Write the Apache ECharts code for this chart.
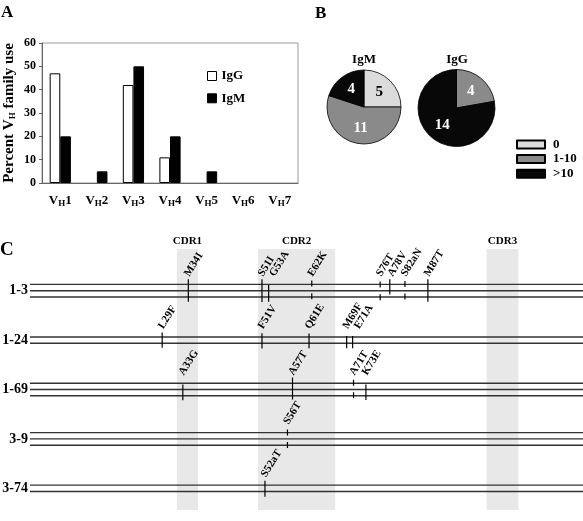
<!DOCTYPE html>
<html>
<head>
<meta charset="utf-8">
<script src="https://cdn.jsdelivr.net/npm/echarts@6/dist/echarts.min.js"></script>
<style>
  html, body { margin: 0; padding: 0; background: #fff; }
  #main { width: 583px; height: 521px; }
</style>
</head>
<body>
<div id="main"></div>
<script>
// ---- panel A: VH family use (%)
const vhFamilies = ['VH1', 'VH2', 'VH3', 'VH4', 'VH5', 'VH6', 'VH7'];
const igG = [47, 0, 42, 11, 0, 0, 0];
const igM = [20, 5, 50, 20, 5, 0, 0];

// ---- panel B: mutations per clone
const mutClasses = ['0', '1-10', '>10'];
const pieTitles = ['IgM', 'IgG'];
const pieIgM = [5, 11, 4];
const pieIgG = [0, 4, 14];

// ---- panel C: germline genes and replacement mutations
const germlines = ['1-3', '1-24', '1-69', '3-9', '3-74'];
const strandCount = [3, 2, 3, 3, 2];
const cdrNames = ['CDR1', 'CDR2', 'CDR3'];
const cdrFrom = [32.0, 49.7, 99.5];
const cdrTo = [36.6, 66.5, 106.4];

const mutNames = ['M34I', 'S51I', 'G53A', 'E62K', 'S76T', 'A78V', 'S82aN', 'M87T',
                  'L29F', 'F51V', 'Q61E', 'M69F', 'E71A',
                  'A33G', 'A57T', 'A71T', 'K73E',
                  'S56T',
                  'S52aT'];
const mutRow = [0, 0, 0, 0, 0, 0, 0, 0,
                1, 1, 1, 1, 1,
                2, 2, 2, 2,
                3,
                4];
const mutPos = [34.5, 50.55, 52.0, 61.4, 76.3, 78.4, 81.7, 86.7,
                28.8, 50.55, 60.8, 69.0, 70.3,
                33.3, 57.2, 70.5, 73.2,
                56.1,
                51.2];
// tick extent, in strand spacings from the middle of the gene
const mutTop = [-1.8, -1.8, -0.9, -1.6, -1.45, -1.8, -1.55, -1.8,
                -1.2, -1.1, -1.05, -0.67, -0.67,
                -0.8, -1.9, -1.55, -0.8,
                -1.5,
                -1.2];
const mutBottom = [1.75, 1.8, 1.75, 1.5, 1.6, 0.6, 1.5, 1.75,
                   1.2, 1.35, 1.3, 1.3, 1.3,
                   1.7, 1.6, 1.45, 1.65,
                   1.6,
                   1.35];
const mutDashed = [false, false, false, true, true, false, true, false,
                   false, false, false, false, false,
                   false, false, true, false,
                   true,
                   false];

const serif = "'Liberation Serif', 'DejaVu Serif', serif";
const rowStep = 49.4;          // px per row on the panel C y axis
const strandStep = 6.3 / rowStep;
const xMaxC = 120.5;
const pxPerUnit = 553 / xMaxC;

// spread the labels a bit where two ticks sit close together
const labelPos = [];
mutPos.forEach((p, i) => {
  let lp = p - 0.3;
  if (i > 0 && mutRow[i - 1] === mutRow[i]) lp = Math.max(lp, labelPos[i - 1] + 11.5 / pxPerUnit);
  labelPos.push(lp);
});

const chart = echarts.init(document.getElementById('main'));

const subRich = {
  s: { fontFamily: serif, fontWeight: 'bold', fontSize: 9, color: '#000', verticalAlign: 'bottom', lineHeight: 9 }
};

// zero bars: no outline, so the baseline stays clean
const barData = (vals, style) => vals.map(v => ({ value: v, itemStyle: v > 0 ? style : { borderWidth: 0, color: 'transparent' } }));

const option = {
  animation: false,
  backgroundColor: '#fff',
  graphic: [
    { type: 'text', x: 1, y: 13, style: { text: 'A', font: 'bold 17px ' + serif, fill: '#000', textVerticalAlign: 'middle', verticalAlign: 'middle' } },
    { type: 'text', x: 315, y: 14, style: { text: 'B', font: 'bold 17px ' + serif, fill: '#000', textVerticalAlign: 'middle', verticalAlign: 'middle' } },
    { type: 'text', x: 0, y: 250, style: { text: 'C', font: 'bold 19px ' + serif, fill: '#000', textVerticalAlign: 'middle', verticalAlign: 'middle' } },
    { type: 'text', x: 364, y: 60, style: { text: pieTitles[0], font: 'bold 13px ' + serif, fill: '#000', textAlign: 'center', align: 'center', textVerticalAlign: 'middle', verticalAlign: 'middle' } },
    { type: 'text', x: 457, y: 60, style: { text: pieTitles[1], font: 'bold 13px ' + serif, fill: '#000', textAlign: 'center', align: 'center', textVerticalAlign: 'middle', verticalAlign: 'middle' } }
  ],
  legend: [
    {
      data: ['IgG', 'IgM'],
      orient: 'vertical',
      left: 202, top: 64.5,
      itemWidth: 9, itemHeight: 9, itemGap: 9.3,
      icon: 'rect',
      itemStyle: { borderColor: '#000', borderWidth: 1 },
      textStyle: { fontFamily: serif, fontWeight: 'bold', fontSize: 13, color: '#000', lineHeight: 12 }
    },
    {
      data: mutClasses,
      orient: 'vertical',
      left: 511, top: 133,
      itemWidth: 28, itemHeight: 8, itemGap: 1.6,
      icon: 'rect',
      textStyle: { fontFamily: serif, fontWeight: 'bold', fontSize: 13, color: '#000', lineHeight: 12, padding: [0, 0, 0, 3] }
    }
  ],
  grid: [
    { left: 42, top: 43, width: 256, height: 140, show: true, borderColor: '#999', borderWidth: 1, backgroundColor: 'transparent' },
    { left: 30, right: 0, top: 249, bottom: 11 }
  ],
  xAxis: [
    {
      gridIndex: 0,
      type: 'category',
      data: vhFamilies,
      axisLine: { lineStyle: { color: '#666' } },
      axisTick: { length: 3, lineStyle: { color: '#666' } },
      axisLabel: {
        interval: 0,
        margin: 10,
        fontFamily: serif, fontWeight: 'bold', fontSize: 13, color: '#000', lineHeight: 15,
        formatter: v => 'V{s|H}' + v.slice(2),
        rich: subRich
      }
    },
    { gridIndex: 1, type: 'value', min: 0, max: xMaxC, show: false }
  ],
  yAxis: [
    {
      gridIndex: 0,
      type: 'value',
      min: 0, max: 60, interval: 10,
      name: 'Percent V{s|H} family use',
      nameLocation: 'middle',
      nameGap: 25,
      nameTextStyle: { fontFamily: serif, fontWeight: 'bold', fontSize: 15, color: '#000', lineHeight: 16, rich: subRich },
      axisLine: { show: true, lineStyle: { color: '#666' } },
      axisTick: { show: true, length: 3, lineStyle: { color: '#666' } },
      splitLine: { show: false },
      axisLabel: { margin: 6, fontFamily: serif, fontWeight: 'bold', fontSize: 12, color: '#000' }
    },
    { gridIndex: 1, type: 'value', inverse: true, min: -41.7 / rowStep, max: 219.3 / rowStep, show: false }
  ],
  series: [
    {
      name: 'IgG', type: 'bar', xAxisIndex: 0, yAxisIndex: 0,
      data: barData(igG, { color: '#fff', borderColor: '#000', borderWidth: 1 }),
      barGap: '0%', barCategoryGap: '42%',
      itemStyle: { color: '#fff', borderColor: '#000', borderWidth: 1 }
    },
    {
      name: 'IgM', type: 'bar', xAxisIndex: 0, yAxisIndex: 0,
      data: barData(igM, { color: '#000', borderColor: '#000', borderWidth: 1 }),
      barGap: '0%', barCategoryGap: '42%',
      itemStyle: { color: '#000', borderColor: '#000', borderWidth: 1 }
    },
    ...[pieIgM, pieIgG].map((vals, k) => ({
      name: pieTitles[k],
      type: 'pie',
      center: [k === 0 ? 364 : 456.5, k === 0 ? 107 : 108],
      radius: k === 0 ? 37 : 38.5,
      startAngle: 90,
      clockwise: true,
      avoidLabelOverlap: false,
      labelLine: { show: false },
      emphasis: { disabled: true },
      data: vals.map((v, j) => ({
        name: mutClasses[j],
        value: v,
        itemStyle: { color: ['#dcdcdc', '#8a8a8a', '#080808'][j], borderColor: '#000', borderWidth: 0.8 },
        label: {
          show: v > 0,
          position: 'inside',
          fontFamily: serif, fontWeight: 'bold', fontSize: 15,
          color: j === 0 ? '#000' : '#fff',
          formatter: '{c}'
        }
      }))
    })),
    // CDR bands
    {
      type: 'custom', xAxisIndex: 1, yAxisIndex: 1, z: 1,
      data: [],
      renderItem: () => null,
      markArea: {
        silent: true,
        itemStyle: { color: '#e8e8e8' },
        label: { position: 'top', distance: 2, fontFamily: serif, fontWeight: 'bold', fontSize: 11, color: '#000' },
        data: cdrNames.map((n, i) => [{ name: n, xAxis: cdrFrom[i] }, { xAxis: cdrTo[i] }])
      }
    },
    // germline strands + names
    {
      type: 'custom', xAxisIndex: 1, yAxisIndex: 1, z: 3,
      data: germlines.map((g, i) => [i, strandCount[i]]),
      renderItem: (params, api) => {
        const row = api.value(0);
        const n = api.value(1);
        const x0 = api.coord([0, row])[0];
        const x1 = api.coord([xMaxC, row])[0];
        const children = [];
        for (let k = 0; k < n; k++) {
          const y = api.coord([0, row + (k - (n - 1) / 2) * strandStep])[1];
          children.push({ type: 'line', shape: { x1: x0, y1: y, x2: x1, y2: y }, style: { stroke: '#333', lineWidth: 1.4 } });
        }
        const yc = api.coord([0, row])[1];
        children.push({
          type: 'text', x: x0 - 2, y: yc,
          style: { text: germlines[params.dataIndex], font: 'bold 14px ' + serif, fill: '#000', textAlign: 'right', align: 'right', textVerticalAlign: 'middle', verticalAlign: 'middle' }
        });
        return { type: 'group', children };
      }
    },
    // mutations
    {
      type: 'custom', xAxisIndex: 1, yAxisIndex: 1, z: 4,
      data: mutPos.map((p, i) => [p, mutRow[i], labelPos[i]]),
      renderItem: (params, api) => {
        const i = params.dataIndex;
        const row = api.value(1);
        const n = strandCount[row];
        const top = api.coord([api.value(0), row + mutTop[i] * strandStep]);
        const bot = api.coord([api.value(0), row + mutBottom[i] * strandStep]);
        const firstStrand = api.coord([api.value(2), row - (n - 1) / 2 * strandStep]);
        return {
          type: 'group',
          children: [
            {
              type: 'line',
              shape: { x1: top[0], y1: top[1], x2: bot[0], y2: bot[1] },
              style: { stroke: '#000', lineWidth: 1.2, lineDash: mutDashed[i] ? [6, 6.6] : null }
            },
            {
              type: 'text',
              x: firstStrand[0], y: firstStrand[1] - 9,
              rotation: 58 * Math.PI / 180,
              style: { text: mutNames[i], font: 'bold 11px ' + serif, fill: '#000', textAlign: 'left', align: 'left', textVerticalAlign: 'middle', verticalAlign: 'middle' }
            }
          ]
        };
      }
    }
  ]
};

chart.setOption(option);
</script>
</body>
</html>
